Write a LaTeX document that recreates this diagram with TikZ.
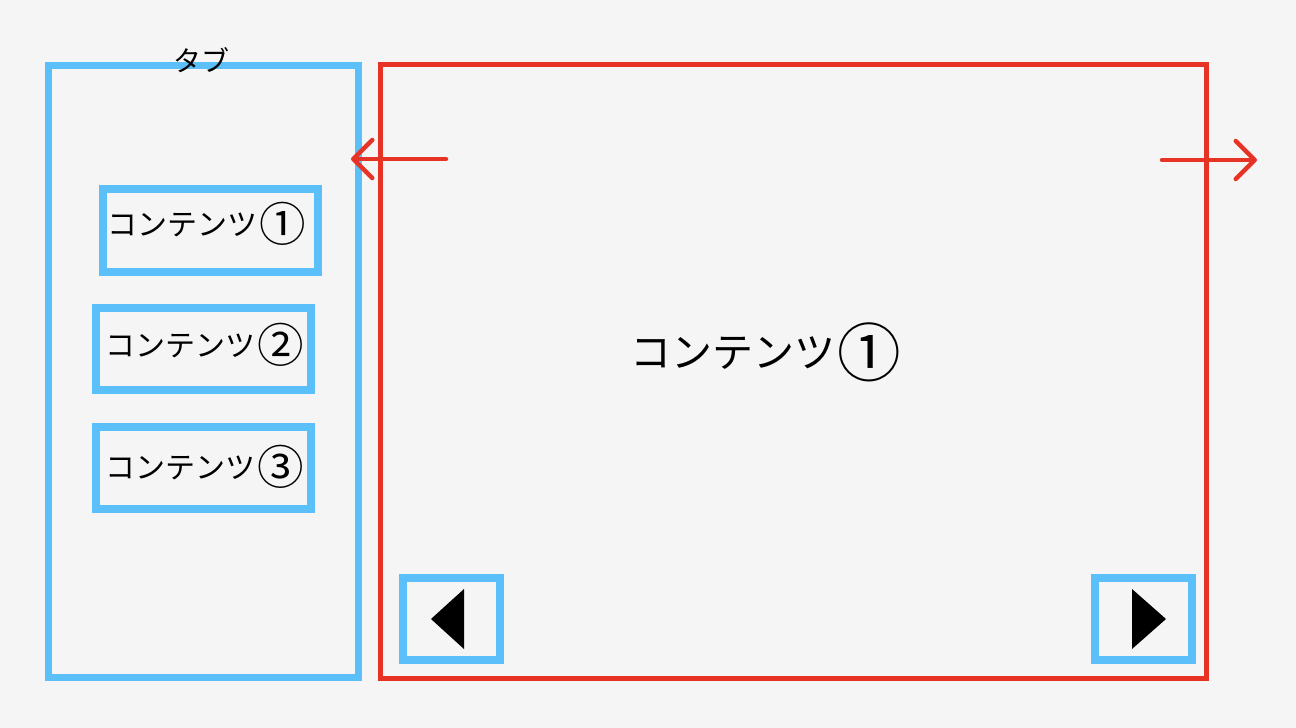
\documentclass[tikz,border=0pt]{standalone}
\usepackage{fontspec}
\usepackage{graphicx}
\newfontfamily\jpfont{Noto Sans CJK JP}
\usetikzlibrary{arrows.meta}
\definecolor{bg}{HTML}{F5F5F5}
\definecolor{tabblue}{HTML}{5BC0FA}
\definecolor{redline}{HTML}{E63326}
\newcommand{\mycirc}[1]{\hspace{0.06em}\raisebox{-0.2em}{\scalebox{1.55}{#1}}}
\tikzset{
  bluebox/.style={draw=tabblue, line width=7.5pt, inner sep=0pt, fill=none},
  redbox/.style={draw=redline, line width=5pt, inner sep=0pt},
  smalltxt/.style={font=\jpfont\fontsize{30}{36}\selectfont, text=black, inner sep=0pt},
  bigtxt/.style={font=\jpfont\fontsize{41}{50}\selectfont, text=black, inner sep=0pt},
  tabtxt/.style={font=\jpfont\fontsize{28}{32}\selectfont, text=black},
  redarrow/.style={draw=redline, line width=4.5pt, line cap=round,
    -{Straight Barb[length=19pt, width=38pt, line cap=round, line join=round]}},
}
\begin{document}
\begin{tikzpicture}[x=1pt, y=-1pt]
  \fill[bg] (0,0) rectangle (1296,728);
  \useasboundingbox (0,0) rectangle (1296,728);
  % tab panel
  \node[bluebox, line width=7pt, minimum width=310pt, minimum height=612pt] (tab) at (203.5,371.5) {};
  \node[tabtxt] (tablabel) at (201,60) {タブ};
  % content panel
  \node[redbox, minimum width=826pt, minimum height=614pt] (content) at (793,371.5) {};
  \node[bigtxt] (main) at (766,352) {コンテンツ\mycirc{①}};
  % tab items
  \node[bluebox, minimum width=215pt, minimum height=83pt] (c1) at (210.5,230.5) {};
  \node[smalltxt] (t1) at (207,224) {コンテンツ\mycirc{①}};
  \node[bluebox, minimum width=215pt, minimum height=82pt] (c2) at (203.5,349) {};
  \node[smalltxt] (t2) at (205,345) {コンテンツ\mycirc{②}};
  \node[bluebox, minimum width=215pt, minimum height=82pt] (c3) at (203.5,468) {};
  \node[smalltxt] (t3) at (205,467) {コンテンツ\mycirc{③}};
  % buttons
  \node[bluebox, minimum width=97pt, minimum height=82pt] (prev) at (451.5,619) {};
  \node[bluebox, minimum width=97pt, minimum height=82pt] (next) at (1143.5,619) {};
  \fill[black] (431,619) -- (464,589) -- (464,649) -- cycle;
  \fill[black] (1132,589) -- (1132,649) -- (1166,619) -- cycle;
  % arrows
  \coordinate (la) at (446,159);
  \coordinate (lb) at (351,159);
  \coordinate (ra) at (1162,160);
  \coordinate (rb) at (1257,160);
  \draw[redarrow] (la) -- (lb);
  \draw[redarrow] (ra) -- (rb);
\end{tikzpicture}
\end{document}
